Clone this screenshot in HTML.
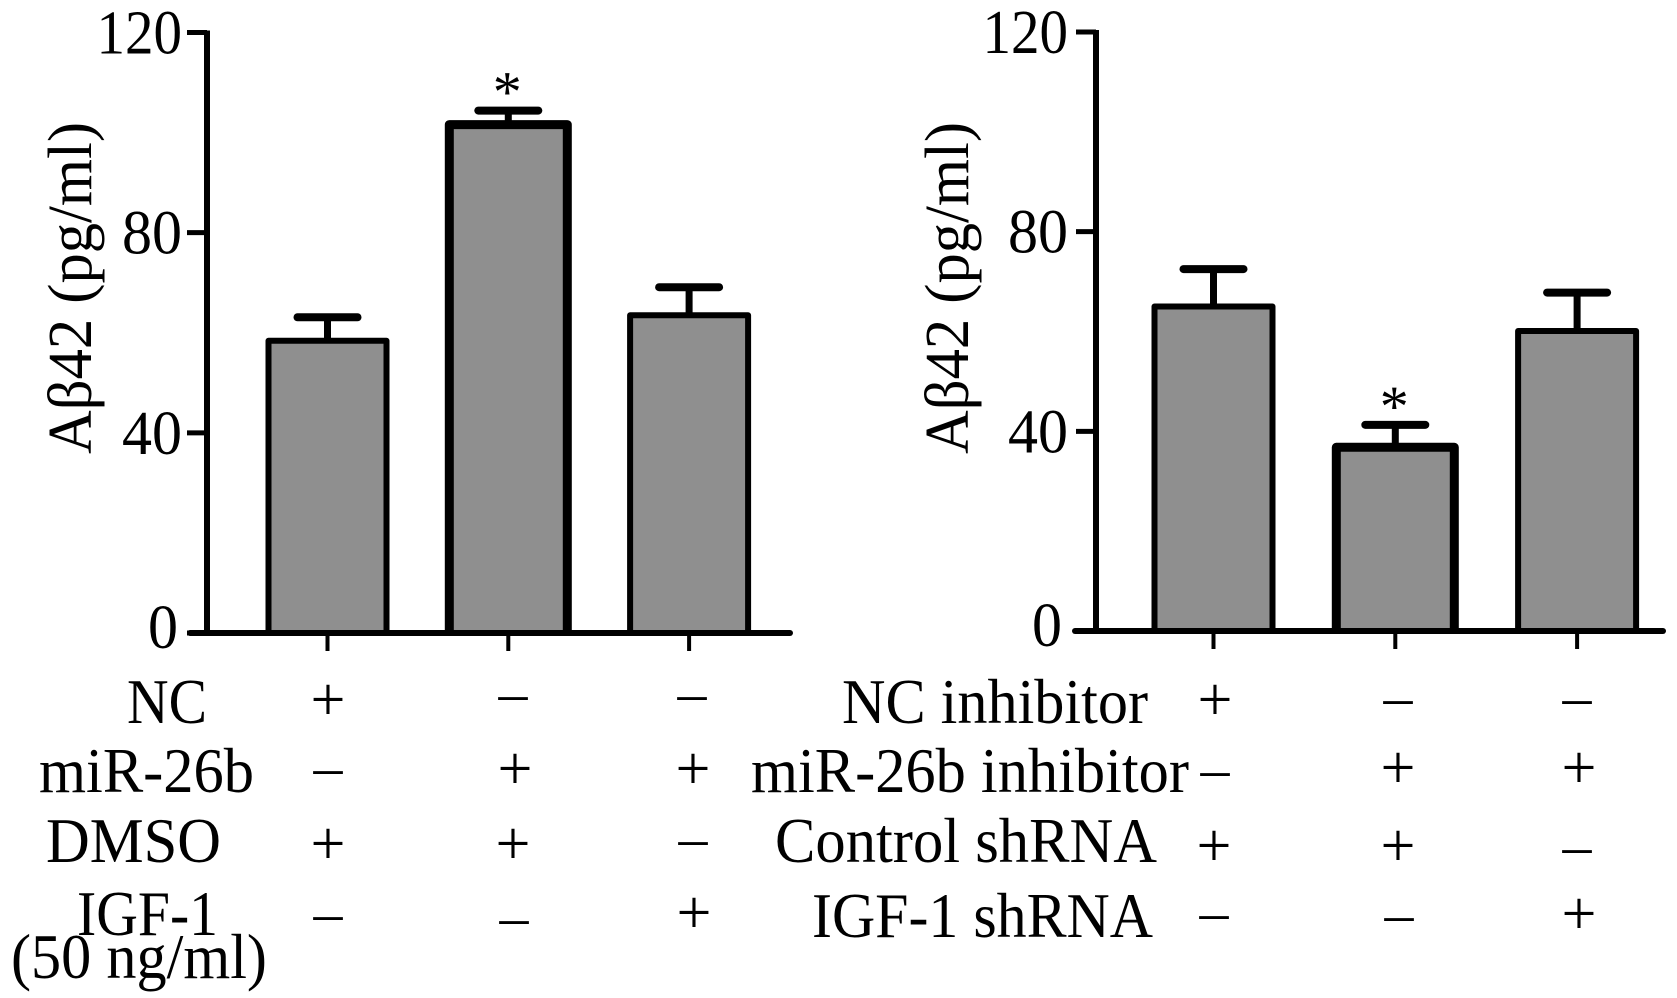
<!DOCTYPE html>
<html lang="en">
<head>
<meta charset="utf-8">
<title>Aβ42 levels</title>
<style>
html,body{margin:0;padding:0;background:#fff;width:1677px;height:998px;overflow:hidden}
svg{display:block}
text{font-family:"Liberation Serif",serif;fill:#000}
</style>
</head>
<body>
<svg id="fig" width="1677" height="998" viewBox="0 0 1677 998" xmlns="http://www.w3.org/2000/svg">
  <g font-size="63">
    <text x="127" y="723" textLength="80" lengthAdjust="spacingAndGlyphs">NC</text>
    <text x="39" y="792" textLength="215" lengthAdjust="spacingAndGlyphs">miR-26b</text>
    <text x="46" y="862" textLength="175" lengthAdjust="spacingAndGlyphs">DMSO</text>
    <text x="77" y="935" textLength="141" lengthAdjust="spacingAndGlyphs">IGF-1</text>
    <text x="11" y="978" textLength="256" lengthAdjust="spacingAndGlyphs">(50 ng/ml)</text>
  </g>
  <g font-size="63">
    <text x="842" y="723" textLength="306" lengthAdjust="spacingAndGlyphs">NC inhibitor</text>
    <text x="751" y="792" textLength="438" lengthAdjust="spacingAndGlyphs">miR-26b inhibitor</text>
    <text x="775" y="862" textLength="382" lengthAdjust="spacingAndGlyphs">Control shRNA</text>
    <text x="812" y="937" textLength="341" lengthAdjust="spacingAndGlyphs">IGF-1 shRNA</text>
  </g>
  <g text-anchor="middle">
    <text font-size="62" x="328" y="720">+</text>
    <text font-size="58" x="513" y="712">–</text>
    <text font-size="58" x="692" y="712">–</text>
    <text font-size="58" x="328" y="786">–</text>
    <text font-size="62" x="515" y="789">+</text>
    <text font-size="62" x="693" y="789">+</text>
    <text font-size="62" x="328" y="864">+</text>
    <text font-size="62" x="513" y="864">+</text>
    <text font-size="58" x="693" y="857">–</text>
    <text font-size="58" x="328" y="932">–</text>
    <text font-size="58" x="514" y="936">–</text>
    <text font-size="62" x="694" y="933">+</text>
  </g>
  <g text-anchor="middle">
    <text font-size="62" x="1215" y="720">+</text>
    <text font-size="58" x="1398" y="716">–</text>
    <text font-size="58" x="1577" y="716">–</text>
    <text font-size="58" x="1215" y="788">–</text>
    <text font-size="62" x="1398" y="788">+</text>
    <text font-size="62" x="1579" y="788">+</text>
    <text font-size="62" x="1214" y="866">+</text>
    <text font-size="62" x="1398" y="866">+</text>
    <text font-size="58" x="1577" y="865">–</text>
    <text font-size="58" x="1214" y="931">–</text>
    <text font-size="58" x="1399" y="933">–</text>
    <text font-size="62" x="1579" y="934">+</text>
  </g>
</svg>
<script>
var tickValues = [0, 40, 80, 120];
var tickLabels = ['0', '40', '80', '120'];
var yAxisTitle = 'Aβ42 (pg/ml)';
var leftGroups = ['NC + DMSO', 'miR-26b + DMSO', 'miR-26b + IGF-1'];
var leftMeans = [58.4, 101.6, 63.5];
var leftUpper = [63.1, 104.4, 69.1];
var leftStars = ['', '*', ''];
var rightGroups = ['NC inhibitor + Control shRNA', 'miR-26b inhibitor + Control shRNA', 'miR-26b inhibitor + IGF-1 shRNA'];
var rightMeans = [65.0, 36.8, 60.1];
var rightUpper = [72.5, 41.3, 67.8];
var rightStars = ['', '*', ''];

var NS = 'http://www.w3.org/2000/svg';
var svg = document.getElementById('fig');

function make(parent, tag, attrs, txt) {
  var el = document.createElementNS(NS, tag);
  for (var k in attrs) el.setAttribute(k, attrs[k]);
  if (txt !== undefined) el.textContent = txt;
  parent.appendChild(el);
  return el;
}

function drawPanel(name, layout, groups, means, upper, stars) {
  var g = make(svg, 'g', {});
  
  
  function y(v) { return layout.y0 - v * (layout.y0 - layout.yTop) / 120; }
  function cx(i) { return layout.c0 + layout.step * i; }

  means.forEach(function (m, i) {
    var sw = i === 1 ? 9 : 6;
    var w = layout.barW;
    var stem = make(g, 'line', {x1: cx(i), x2: cx(i), y1: y(m), y2: y(upper[i]), stroke: '#000', 'stroke-width': 7});
    
    
    var cap = make(g, 'line', {x1: cx(i) - 30, x2: cx(i) + 30, y1: y(upper[i]), y2: y(upper[i]), stroke: '#000', 'stroke-width': 8, 'stroke-linecap': 'round'});
    
    
    var left = cx(i) - w / 2;
    var bar = make(g, 'path', {d: 'M' + left + ' ' + y(0) + 'V' + y(m) + 'H' + (left + w) + 'V' + y(0), fill: '#8f8f8f', stroke: '#000', 'stroke-width': sw, 'stroke-linejoin': 'round'});
    
    
    var tick = make(g, 'line', {x1: cx(i), x2: cx(i), y1: y(0), y2: y(0) + 18, stroke: '#000', 'stroke-width': 4});
    
    
    if (stars[i]) {
      var star = make(g, 'text', {x: cx(i) - 1, y: y(upper[i]) + 1, 'font-size': 58, 'text-anchor': 'middle'}, stars[i]);
      
      
    }
  });

  var yAxis = make(g, 'line', {x1: layout.axisX, x2: layout.axisX, y1: y(120) - 2, y2: y(0), stroke: '#000', 'stroke-width': 6});
  
  
  var xAxis = make(g, 'line', {x1: layout.xStart, x2: layout.xEnd, y1: y(0), y2: y(0), stroke: '#000', 'stroke-width': 6, 'stroke-linecap': 'round'});
  
  

  tickValues.forEach(function (v, i) {
    var t = make(g, 'line', {x1: layout.axisX - 20, x2: layout.axisX, y1: y(v), y2: y(v), stroke: '#000', 'stroke-width': 5});
    
    
    var isZero = v === 0;
    var charW = tickLabels[i].length === 3 ? 28.5 : 30;
    var lx = layout.axisX - layout.labelGap - (isZero ? layout.zeroShift : 0);
    var ly = y(v) + 21 - (isZero ? 6 : 0);
    var l = make(g, 'text', {x: lx, y: ly, 'font-size': 62, 'text-anchor': 'end', textLength: tickLabels[i].length * charW, lengthAdjust: 'spacingAndGlyphs'}, tickLabels[i]);
    
    
  });

  var tx = layout.titleX, ty = layout.titleY;
  var title = make(g, 'text', {x: tx, y: ty, 'font-size': 62, 'text-anchor': 'middle', transform: 'rotate(-90 ' + tx + ' ' + ty + ')', textLength: 332, lengthAdjust: 'spacingAndGlyphs'}, yAxisTitle);
  
  
}

drawPanel('left', {y0: 633, yTop: 32.5, axisX: 207, xStart: 190, xEnd: 790, c0: 327.5, step: 180.8, barW: 118, labelGap: 25, zeroShift: 4, titleX: 91, titleY: 288}, leftGroups, leftMeans, leftUpper, leftStars);
drawPanel('right', {y0: 631, yTop: 32, axisX: 1096, xStart: 1075, xEnd: 1663, c0: 1213.5, step: 181.8, barW: 118, labelGap: 28, zeroShift: 6, titleX: 968, titleY: 288}, rightGroups, rightMeans, rightUpper, rightStars);
</script>
</body>
</html>
